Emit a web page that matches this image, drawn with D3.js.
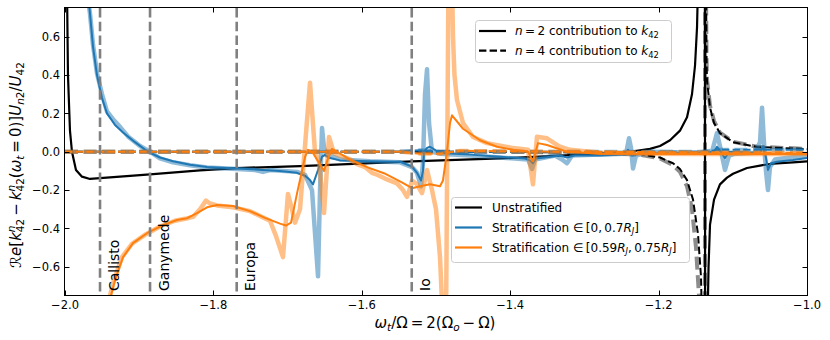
<!DOCTYPE html>
<html><head><meta charset="utf-8">
<script src="https://cdn.jsdelivr.net/npm/d3@7"></script>
<style>
body{margin:0;background:#fff;}
svg{display:block;font-family:"DejaVu Sans",sans-serif;}
text{white-space:pre;}
</style></head><body>
<svg id="c" width="830" height="340" xml:space="preserve"></svg>
<script>
// ---------------- data ----------------
const xTicks = [-2.0, -1.8, -1.6, -1.4, -1.2, -1.0];
const yTicks = [-0.6, -0.4, -0.2, 0.0, 0.2, 0.4, 0.6];
const moonNames = ["Callisto", "Ganymede", "Europa", "Io"];
const moonFreq = [-1.9528, -1.8854, -1.7686, -1.5327];

// Unstratified, n = 2 contribution
const unstratN2 = [[-1.9980,2.0],[-1.9973,0.85],[-1.9960,0.40],[-1.9933,0.11],[-1.9906,0.0],[-1.9852,-0.095],[-1.9771,-0.13],[-1.9663,-0.142],[-1.9528,-0.138],[-1.8854,-0.118],[-1.8181,-0.097],[-1.7682,-0.085],[-1.6833,-0.075],[-1.6429,-0.068],[-1.5323,-0.05],[-1.4137,-0.035],[-1.3329,-0.02],[-1.2790,-0.01],[-1.2385,0.0],[-1.2116,0.015],[-1.1981,0.03],[-1.1846,0.06],[-1.1712,0.11],[-1.1617,0.18],[-1.1550,0.30],[-1.1509,0.45],[-1.1482,0.65],[-1.1462,1.0],[-1.1456,3.0],[-1.1381,3.0],[-1.1368,-3.0],[-1.1341,-0.9],[-1.1327,-0.6],[-1.1307,-0.38],[-1.1253,-0.25],[-1.1173,-0.17],[-1.1078,-0.135],[-1.0997,-0.115],[-1.0809,-0.085],[-1.0633,-0.072],[-1.0458,-0.062],[-1.0189,-0.055],[-1.0000,-0.05]];
// Unstratified, n = 4 contribution (raw and smoothed)
const unstratN4Raw = [[-2.0,0.0],[-1.4137,0.0],[-1.2790,-0.006],[-1.2251,-0.015],[-1.1981,-0.035],[-1.1806,-0.07],[-1.1712,-0.105],[-1.1617,-0.18],[-1.1550,-0.3],[-1.1496,-0.5],[-1.1456,-0.75],[-1.1436,-1.2],[-1.1380,-3.0],[-1.1369,3.0],[-1.1364,1.0],[-1.1354,0.5],[-1.1348,0.38],[-1.1307,0.24],[-1.1253,0.16],[-1.1173,0.1],[-1.0997,0.052],[-1.0674,0.026],[-1.0,0.015]];
const unstratN4 = [[-2.0,0.0],[-1.6833,0.0],[-1.4137,0.0],[-1.2790,-0.005],[-1.2251,-0.012],[-1.1981,-0.03],[-1.1806,-0.06],[-1.1712,-0.09],[-1.1617,-0.148],[-1.1536,-0.25],[-1.1469,-0.43],[-1.1429,-0.65],[-1.1408,-1.0],[-1.1380,-3.0],[-1.1369,3.0],[-1.1364,1.0],[-1.1354,0.5],[-1.1348,0.37],[-1.1307,0.23],[-1.1253,0.15],[-1.1173,0.097],[-1.0997,0.05],[-1.0674,0.025],[-1.0,0.014]];

// Stratification in [0, 0.7 RJ]
const strat1N2Raw = [[-1.9730,0.95],[-1.9690,0.8],[-1.9663,0.72],[-1.9623,0.56],[-1.9569,0.41],[-1.9501,0.3],[-1.9434,0.21],[-1.9353,0.17],[-1.9259,0.13],[-1.9151,0.08],[-1.8989,0.03],[-1.8854,0.0],[-1.8720,-0.035],[-1.8544,-0.055],[-1.8315,-0.07],[-1.8086,-0.082],[-1.7682,-0.09],[-1.7439,-0.095],[-1.7332,-0.105],[-1.7237,-0.095],[-1.6873,-0.105],[-1.6765,-0.12],[-1.6671,-0.2],[-1.6617,-0.5],[-1.6590,-0.65],[-1.6563,-0.2],[-1.6536,0.124],[-1.6509,0.02],[-1.6469,-0.02],[-1.6429,-0.02],[-1.6294,-0.04],[-1.5890,-0.05],[-1.5485,-0.055],[-1.5323,-0.08],[-1.5256,-0.11],[-1.5202,-0.18],[-1.5175,-0.05],[-1.5148,0.3],[-1.5121,0.43],[-1.5094,0.15],[-1.5054,0.0],[-1.4946,-0.01],[-1.4542,-0.02],[-1.4137,-0.03],[-1.3760,-0.04],[-1.3706,-0.09],[-1.3666,-0.04],[-1.3531,-0.03],[-1.3396,-0.02],[-1.3302,-0.04],[-1.3235,-0.06],[-1.3167,-0.02],[-1.2790,-0.015],[-1.2439,-0.01],[-1.2399,0.07],[-1.2372,0.02],[-1.2345,-0.087],[-1.2305,-0.02],[-1.2116,0.0],[-1.1442,-0.005],[-1.1280,0.0],[-1.1213,0.097],[-1.1173,0.03],[-1.1105,-0.095],[-1.1051,-0.02],[-1.0970,-0.01],[-1.0701,-0.005],[-1.0633,0.05],[-1.0606,0.23],[-1.0580,0.05],[-1.0553,-0.1],[-1.0526,-0.2],[-1.0499,-0.08],[-1.0431,-0.04],[-1.0229,-0.03],[-1.0,-0.025]];
const strat1N2 = [[-1.9717,0.95],[-1.9683,0.8],[-1.9663,0.72],[-1.9623,0.55],[-1.9569,0.4],[-1.9501,0.28],[-1.9434,0.2],[-1.9326,0.14],[-1.9218,0.1],[-1.9057,0.05],[-1.8881,0.0],[-1.8720,-0.03],[-1.8544,-0.05],[-1.8315,-0.068],[-1.8086,-0.08],[-1.7682,-0.088],[-1.7332,-0.095],[-1.7102,-0.1],[-1.6873,-0.11],[-1.6765,-0.125],[-1.6698,-0.148],[-1.6658,-0.17],[-1.6590,-0.095],[-1.6536,-0.025],[-1.6496,-0.017],[-1.6429,-0.033],[-1.6294,-0.045],[-1.5890,-0.05],[-1.5485,-0.052],[-1.5323,-0.078],[-1.5256,-0.11],[-1.5202,-0.15],[-1.5175,-0.1],[-1.5162,0.0],[-1.5121,0.02],[-1.5081,0.026],[-1.5013,0.01],[-1.4946,-0.007],[-1.4542,-0.015],[-1.4137,-0.026],[-1.3801,-0.035],[-1.3733,-0.045],[-1.3693,-0.06],[-1.3652,-0.035],[-1.3531,-0.03],[-1.3329,-0.02],[-1.3235,-0.03],[-1.3127,-0.02],[-1.2790,-0.02],[-1.2453,-0.015],[-1.2412,0.01],[-1.2385,-0.005],[-1.2358,-0.02],[-1.2251,-0.01],[-1.1442,-0.005],[-1.1253,0.0],[-1.1213,0.026],[-1.1146,-0.01],[-1.1105,-0.033],[-1.1051,0.0],[-1.0997,0.0],[-1.0768,-0.005],[-1.0633,-0.005],[-1.0593,0.026],[-1.0553,-0.03],[-1.0526,-0.095],[-1.0485,-0.06],[-1.0404,-0.052],[-1.0189,-0.043],[-1.0,-0.033]];
const strat1N4 = [[-2.0,0.0],[-1.5485,0.0],[-1.5216,0.008],[-1.4946,0.0],[-1.1442,0.0],[-1.1173,0.01],[-1.0,0.01]];

// Stratification in [0.59 RJ, 0.75 RJ]
const strat2N2Raw = [[-1.9420,-0.85],[-1.9394,-0.75],[-1.9340,-0.67],[-1.9232,-0.55],[-1.9097,-0.48],[-1.8908,-0.43],[-1.8720,-0.39],[-1.8518,-0.36],[-1.8383,-0.35],[-1.8275,-0.34],[-1.8181,-0.3],[-1.8100,-0.255],[-1.8046,-0.27],[-1.7951,-0.28],[-1.7736,-0.29],[-1.7507,-0.31],[-1.7345,-0.34],[-1.7237,-0.36],[-1.7156,-0.44],[-1.7062,-0.55],[-1.6995,-0.22],[-1.6941,-0.3],[-1.6900,-0.37],[-1.6833,-0.3],[-1.6792,-0.1],[-1.6698,0.36],[-1.6631,0.0],[-1.6577,-0.05],[-1.6509,-0.32],[-1.6442,0.077],[-1.6375,-0.007],[-1.6159,-0.04],[-1.6065,-0.065],[-1.5957,-0.08],[-1.5863,-0.11],[-1.5795,-0.12],[-1.5687,-0.14],[-1.5526,-0.165],[-1.5445,-0.2],[-1.5391,-0.235],[-1.5350,-0.19],[-1.5323,-0.15],[-1.5256,-0.17],[-1.5189,-0.216],[-1.5121,-0.095],[-1.5054,-0.2],[-1.5000,-0.3],[-1.4946,-0.55],[-1.4906,-0.9],[-1.4865,-0.9],[-1.4832,0.9],[-1.4784,0.9],[-1.4771,0.6],[-1.4751,0.4],[-1.4717,0.27],[-1.4636,0.15],[-1.4501,0.077],[-1.4313,0.045],[-1.3962,0.019],[-1.3760,0.01],[-1.3693,-0.17],[-1.3639,0.078],[-1.3504,0.07],[-1.3329,0.026],[-1.3194,0.01],[-1.2790,-0.005],[-1.2116,-0.01],[-1.1442,-0.012],[-1.0,-0.012]];
const strat2N2 = [[-1.9407,-0.85],[-1.9380,-0.75],[-1.9326,-0.67],[-1.9218,-0.55],[-1.9084,-0.477],[-1.8895,-0.425],[-1.8679,-0.383],[-1.8491,-0.356],[-1.8356,-0.347],[-1.8221,-0.32],[-1.8086,-0.29],[-1.7951,-0.278],[-1.7736,-0.283],[-1.7507,-0.31],[-1.7305,-0.345],[-1.7102,-0.375],[-1.7022,-0.385],[-1.6954,-0.37],[-1.6873,-0.217],[-1.6765,-0.027],[-1.6725,0.01],[-1.6658,-0.007],[-1.6590,-0.05],[-1.6509,-0.1],[-1.6469,-0.05],[-1.6402,0.015],[-1.6334,0.0],[-1.6146,-0.044],[-1.5930,-0.08],[-1.5701,-0.112],[-1.5472,-0.157],[-1.5323,-0.19],[-1.5216,-0.18],[-1.5081,-0.17],[-1.4946,-0.18],[-1.4906,-0.15],[-1.4852,0.0],[-1.4811,0.15],[-1.4784,0.19],[-1.4636,0.12],[-1.4407,0.06],[-1.4178,0.026],[-1.3962,0.01],[-1.3760,0.0],[-1.3693,-0.05],[-1.3625,0.045],[-1.3504,0.035],[-1.3235,0.0],[-1.2790,-0.01],[-1.1442,-0.012],[-1.0,-0.012]];
const strat2N4 = [[-2.0,0.0],[-1.5485,0.0],[-1.5216,-0.01],[-1.4946,-0.01],[-1.4677,0.005],[-1.4137,0.003],[-1.3329,0.0],[-1.1442,-0.003],[-1.0,-0.005]];

// ---------------- drawing ----------------
const W = 830, H = 340;
const plotL = 65, plotR = 807, plotT = 8, plotB = 295.5;
const svg = d3.select("#c");
svg.append("rect").attr("width", W).attr("height", H).attr("fill", "#fff");

const x = d3.scaleLinear().domain([-2, -1]).range([plotL, plotR]);
const y = d3.scaleLinear().domain([-0.75, 0.75]).range([plotB, plotT]);

svg.append("defs").append("clipPath").attr("id", "clip")
  .append("rect").attr("x", plotL).attr("y", plotT).attr("width", plotR - plotL).attr("height", plotB - plotT);

const line = d3.line().x(d => x(d[0])).y(d => y(d[1]));
const plot = svg.append("g").attr("clip-path", "url(#clip)");

const BLUE = "#1f77b4", ORANGE = "#ff7f0e", BLACK = "#000000";
function drawLine(data, color, opts) {
  plot.append("path").datum(data).attr("d", line)
    .attr("fill", "none").attr("stroke", color)
    .attr("stroke-width", opts.w).attr("stroke-opacity", opts.op || 1)
    .attr("stroke-linejoin", "round")
    .attr("stroke-dasharray", opts.dash || null);
}
const dashThin = "7.4,3.2", dashThick = "13,5.6";

// unstratified
drawLine(unstratN4Raw, BLACK, {w: 4, op: 0.45, dash: dashThick});
drawLine(unstratN2, BLACK, {w: 2.2});
drawLine(unstratN4, BLACK, {w: 2, dash: dashThin});
// stratification [0, 0.7]
drawLine(strat1N2Raw, BLUE, {w: 4.5, op: 0.5});
drawLine(strat1N4, BLUE, {w: 4, op: 0.5, dash: dashThick});
drawLine(strat1N2, BLUE, {w: 2});
drawLine(strat1N4, BLUE, {w: 2, dash: dashThin});
// stratification [0.59, 0.75]
drawLine(strat2N2Raw, ORANGE, {w: 4.5, op: 0.5});
drawLine(strat2N4, ORANGE, {w: 4, op: 0.5, dash: dashThick});
drawLine(strat2N2, ORANGE, {w: 2});
drawLine(strat2N4, ORANGE, {w: 2, dash: dashThin});

// moon lines
moonFreq.forEach((f, i) => {
  plot.append("line").attr("x1", x(f)).attr("x2", x(f)).attr("y1", plotT).attr("y2", plotB)
    .attr("stroke", "#808080").attr("stroke-width", 2.6).attr("stroke-dasharray", "9.5,4.2");
  svg.append("text").attr("transform", `translate(${x(f) + 18.6},${plotB - 4.5}) rotate(-90)`)
    .attr("font-size", 14).attr("fill", "#000").text(moonNames[i]);
});

// math text helper
function mathText(parent, parts, size) {
  const g = parent.append("g");
  let cx = 0, lastStart = 0, lastW = 0;
  for (const p of parts) {
    const small = p.sub || p.sup;
    const fs = small ? size * 0.7 : size;
    const dy = p.sub ? size * 0.22 : (p.sup ? -size * 0.4 : 0);
    const sx = p.stack ? lastStart : cx;
    const t = g.append("text").attr("x", sx).attr("y", dy)
      .attr("font-size", fs).attr("font-style", p.i ? "italic" : "normal").text(p.t);
    const w = t.node().getComputedTextLength();
    if (p.stack) { cx = sx + Math.max(lastW, w); }
    else { lastStart = sx; lastW = w; cx = sx + w; }
  }
  return {g, w: cx};
}

// legends
function legend(x0, y0, w, h, rows, rowY0, rowDy, hx0, hx1, tx) {
  const g = svg.append("g");
  g.append("rect").attr("x", x0).attr("y", y0).attr("width", w).attr("height", h)
    .attr("rx", 3).attr("fill", "#fff").attr("fill-opacity", 0.8)
    .attr("stroke", "#cccccc").attr("stroke-width", 1);
  rows.forEach((r, i) => {
    const yy = rowY0 + i * rowDy;
    g.append("line").attr("x1", hx0).attr("x2", hx1).attr("y1", yy).attr("y2", yy)
      .attr("stroke", r.color).attr("stroke-width", 2.2).attr("stroke-dasharray", r.dash || null);
    const m = mathText(g, r.parts, 12);
    m.g.attr("transform", `translate(${tx},${yy + 4.3})`);
  });
}
const T = "\u2009";
legend(475.5, 20.5, 196, 42, [
  {color: BLACK, parts: [{t: "n", i: true}, {t: T + "=" + T + "2 contribution to "}, {t: "k", i: true}, {t: "42", sub: true}]},
  {color: BLACK, dash: dashThin, parts: [{t: "n", i: true}, {t: T + "=" + T + "4 contribution to "}, {t: "k", i: true}, {t: "42", sub: true}]}
], 31, 19.7, 479, 506, 515);

legend(451.5, 197.5, 238, 65, [
  {color: BLACK, parts: [{t: "Unstratified"}]},
  {color: BLUE, parts: [{t: "Stratification "}, {t: "\u2208" + T + "[0," + T + "0.7"}, {t: "R", i: true}, {t: "J", i: true, sub: true}, {t: "]"}]},
  {color: ORANGE, parts: [{t: "Stratification "}, {t: "\u2208" + T + "[0.59"}, {t: "R", i: true}, {t: "J", i: true, sub: true}, {t: "," + T + "0.75"}, {t: "R", i: true}, {t: "J", i: true, sub: true}, {t: "]"}]}
], 207.5, 20, 455, 482, 492);

// frame and ticks
const axes = svg.append("g").attr("stroke", "#000").attr("stroke-width", 1);
axes.append("rect").attr("x", 64.5).attr("y", 7.5).attr("width", 743).attr("height", 288)
  .attr("fill", "none");
xTicks.forEach(v => {
  const px = Math.round(x(v)) + 0.5;
  axes.append("line").attr("x1", px).attr("x2", px).attr("y1", plotB).attr("y2", plotB - 5);
  axes.append("line").attr("x1", px).attr("x2", px).attr("y1", 7.5).attr("y2", 12.5);
  svg.append("text").attr("x", x(v)).attr("y", 308.5).attr("text-anchor", "middle")
    .attr("font-size", 11.5).text(d3.format(".1f")(v).replace("-", "\u2212"));
});
yTicks.forEach(v => {
  const py = Math.round(y(v)) + 0.5;
  axes.append("line").attr("x1", 64.5).attr("x2", 69.5).attr("y1", py).attr("y2", py);
  axes.append("line").attr("x1", 807.5).attr("x2", 802.5).attr("y1", py).attr("y2", py);
  svg.append("text").attr("x", 60).attr("y", y(v) + 4.2).attr("text-anchor", "end")
    .attr("font-size", 11.5).text(d3.format(".1f")(v).replace("-", "\u2212"));
});

// axis labels
const xl = mathText(svg, [
  {t: "\u03c9", i: true}, {t: "t", i: true, sub: true}, {t: "/\u03a9" + T + "=" + T + "2(\u03a9"},
  {t: "o", i: true, sub: true}, {t: T + "\u2212" + T + "\u03a9)"}
], 15);
xl.g.attr("transform", `translate(${435 - xl.w / 2},327.5)`);

const yl = mathText(svg, [
  {t: "\u211b"}, {t: "e", i: true}, {t: "["}, {t: "k", i: true}, {t: "n", i: true, sup: true}, {t: "42", sub: true, stack: true},
  {t: T + "\u2212" + T}, {t: "k", i: true}, {t: "n", i: true, sup: true}, {t: "42", sub: true, stack: true},
  {t: "("}, {t: "\u03c9", i: true}, {t: "t", i: true, sub: true}, {t: T + "=" + T + "0)]"},
  {t: "U", i: true}, {t: "n", i: true, sub: true}, {t: "2", sub: true}, {t: "/"}, {t: "U", i: true}, {t: "42", sub: true}
], 15);
yl.g.attr("transform", `translate(21,${165 + yl.w / 2}) rotate(-90)`);
</script>
</body></html>
